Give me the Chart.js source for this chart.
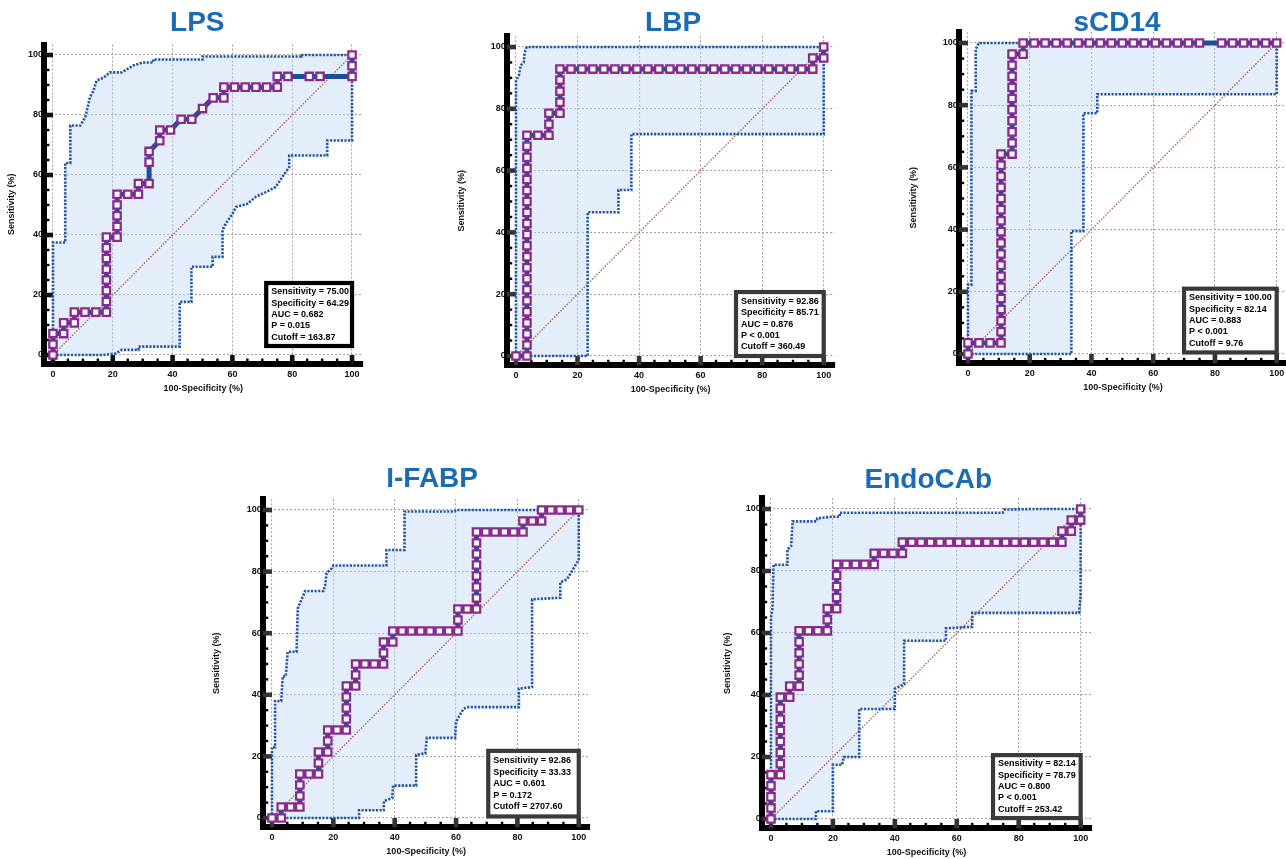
<!DOCTYPE html>
<html>
<head>
<meta charset="utf-8">
<title>ROC curves</title>
<script src="https://cdn.jsdelivr.net/npm/chart.js@4.4.1/dist/chart.umd.min.js"></script>
<style>
  html, body { margin: 0; padding: 0; background: #fff; overflow: hidden; }
  #wrap { position: relative; width: 1286px; height: 859px; overflow: hidden; }
  #wrap canvas { position: absolute; }
</style>
</head>
<body>
<div id="wrap"></div>
<script>
/* ================================================
   ROC curves (LPS / LBP / sCD14 / I-FABP / EndoCAb)
   ================================================ */

// ---- axis ticks ----
const TICK_VALUES = [0, 20, 40, 60, 80, 100];
const MINOR_STEP = 5;
const X_TITLE = '100-Specificity (%)';
const Y_TITLE = 'Sensitivity (%)';
const DIAGONAL = [[0, 0], [100, 100]];

// ---- LPS ----
const LPS_ROC = [[0,0],[0,3.57],[0,7.14],[3.57,7.14],[3.57,10.71],[7.14,10.71],[7.14,14.29],[10.71,14.29],[14.29,14.29],
  [17.86,14.29],[17.86,17.86],[17.86,21.43],[17.86,25],[17.86,28.57],[17.86,32.14],[17.86,35.71],[17.86,39.29],
  [21.43,39.29],[21.43,42.86],[21.43,46.43],[21.43,50],[21.43,53.57],[25,53.57],[28.57,53.57],[28.57,57.14],
  [32.14,57.14],[32.14,64.29],[32.14,67.86],[35.71,71.43],[35.71,75],[39.29,75],[42.86,78.57],[46.43,78.57],
  [50,82.14],[53.57,85.71],[57.14,85.71],[57.14,89.29],[60.71,89.29],[64.29,89.29],[67.86,89.29],[71.43,89.29],
  [75,89.29],[75,92.86],[78.57,92.86],[85.71,92.86],[89.29,92.86],[100,92.86],[100,96.43],[100,100]];
const LPS_UPPER = [[0,0],[0,37.5],[4.1,37.5],[4.1,64],[5.8,64],[5.8,76.5],[9.1,76.5],[10.8,79.3],[12.4,86],[13.5,88],
  [14.6,91.5],[17,92.5],[19,94.2],[23,94.2],[26.8,96.5],[30,97.5],[33.5,97.5],[33.5,98.5],[50,98.5],[50,99.5],
  [83,99.5],[83,100],[100,100]];
const LPS_LOWER = [[0,0],[17,0],[21,0.5],[23,1.7],[28.6,1.7],[28.6,2.8],[42.4,2.8],[42.4,17.7],[46.3,17.7],[46.3,29.4],
  [53.4,29.4],[53.4,32.7],[56.7,32.7],[56.7,41.6],[57.8,43.8],[60,47],[61.2,49.3],[65,50.4],[67.8,52.7],[71.2,54.3],
  [74.5,56],[76.7,59.3],[79,62.6],[79,66.5],[91.7,66.5],[91.7,71.5],[100,71.5],[100,100]];
const LPS_STATS = ['Sensitivity = 75.00', 'Specificity = 64.29', 'AUC = 0.682', 'P = 0.015', 'Cutoff = 163.87'];

// ---- LBP ----
const LBP_ROC = [[0,0],[3.57,0],[3.57,3.57],[3.57,7.14],[3.57,10.71],[3.57,14.29],[3.57,17.86],[3.57,21.43],[3.57,25],
  [3.57,28.57],[3.57,32.14],[3.57,35.71],[3.57,39.29],[3.57,42.86],[3.57,46.43],[3.57,50],[3.57,53.57],[3.57,57.14],
  [3.57,60.71],[3.57,64.29],[3.57,67.86],[3.57,71.43],[7.14,71.43],[10.71,71.43],[10.71,75],[10.71,78.57],
  [14.29,78.57],[14.29,82.14],[14.29,85.71],[14.29,89.29],[14.29,92.86],[17.86,92.86],[21.43,92.86],[25,92.86],
  [28.57,92.86],[32.14,92.86],[35.71,92.86],[39.29,92.86],[42.86,92.86],[46.43,92.86],[50,92.86],[53.57,92.86],
  [57.14,92.86],[60.71,92.86],[64.29,92.86],[67.86,92.86],[71.43,92.86],[75,92.86],[78.57,92.86],[82.14,92.86],
  [85.71,92.86],[89.29,92.86],[92.86,92.86],[96.43,92.86],[96.43,96.43],[100,96.43],[100,100]];
const LBP_UPPER = [[0,0],[0,89],[1,91],[1.5,94],[2.5,95],[2.8,98],[3.2,99.5],[3.6,100],[100,100]];
const LBP_LOWER = [[0,0],[23.3,0],[23.3,46.5],[33.3,46.5],[33.3,53.7],[37.5,53.7],[37.5,71.8],[100,71.8],[100,100]];
const LBP_STATS = ['Sensitivity = 92.86', 'Specificity = 85.71', 'AUC = 0.876', 'P < 0.001', 'Cutoff = 360.49'];

// ---- sCD14 ----
const SCD14_ROC = [[0,0],[0,3.57],[3.57,3.57],[7.14,3.57],[10.71,3.57],[10.71,7.14],[10.71,10.71],[10.71,14.29],
  [10.71,17.86],[10.71,21.43],[10.71,25],[10.71,28.57],[10.71,32.14],[10.71,35.71],[10.71,39.29],[10.71,42.86],
  [10.71,46.43],[10.71,50],[10.71,53.57],[10.71,57.14],[10.71,60.71],[10.71,64.29],[14.29,64.29],[14.29,67.86],
  [14.29,71.43],[14.29,75],[14.29,78.57],[14.29,82.14],[14.29,85.71],[14.29,89.29],[14.29,92.86],[14.29,96.43],
  [17.86,96.43],[17.86,100],[21.43,100],[25,100],[28.57,100],[32.14,100],[35.71,100],[39.29,100],[42.86,100],
  [46.43,100],[50,100],[53.57,100],[57.14,100],[60.71,100],[64.29,100],[67.86,100],[71.43,100],[75,100],
  [82.14,100],[85.71,100],[89.29,100],[92.86,100],[96.43,100],[100,100]];
const SCD14_UPPER = [[0,0],[0,22.3],[1.1,22.3],[1.1,84.6],[2.5,84.6],[2.5,98],[3,99],[3.5,100],[100,100]];
const SCD14_LOWER = [[0,0],[33.5,0],[33.5,39.5],[37.4,39.5],[37.4,77.4],[41.9,77.4],[41.9,83.5],[100,83.5],[100,100]];
const SCD14_STATS = ['Sensitivity = 100.00', 'Specificity = 82.14', 'AUC = 0.883', 'P < 0.001', 'Cutoff = 9.76'];

// ---- I-FABP ----
const IFABP_ROC = [[0,0],[3.03,0],[3.03,3.57],[6.06,3.57],[9.09,3.57],[9.09,7.14],[9.09,10.71],[9.09,14.29],
  [12.12,14.29],[15.15,14.29],[15.15,17.86],[15.15,21.43],[18.18,21.43],[18.18,25],[18.18,28.57],[21.21,28.57],
  [24.24,28.57],[24.24,32.14],[24.24,35.71],[24.24,39.29],[24.24,42.86],[27.27,42.86],[27.27,46.43],[27.27,50],
  [30.3,50],[33.33,50],[36.36,50],[36.36,53.57],[36.36,57.14],[39.39,57.14],[39.39,60.71],[42.42,60.71],
  [45.45,60.71],[48.48,60.71],[51.52,60.71],[54.55,60.71],[57.58,60.71],[60.61,60.71],[60.61,64.29],[60.61,67.86],
  [63.64,67.86],[66.67,67.86],[66.67,71.43],[66.67,75],[66.67,78.57],[66.67,82.14],[66.67,85.71],[66.67,89.29],
  [66.67,92.86],[69.7,92.86],[72.73,92.86],[75.76,92.86],[78.79,92.86],[81.82,92.86],[81.82,96.43],[84.85,96.43],
  [87.88,96.43],[87.88,100],[90.91,100],[93.94,100],[96.97,100],[100,100]];
const IFABP_UPPER = [[0,0],[0,23],[1,23],[1,38],[3,38],[3.5,46],[4.5,46],[5.1,54],[8,54],[8.4,68],[9.2,70],[10.3,72.5],
  [10.8,73.7],[16.8,73.7],[17.3,75.5],[17.8,79.5],[19.4,81],[20,82],[37.3,82],[37.3,87],[43.2,87],[43.2,99.5],
  [59.5,99.5],[60,100],[100,100]];
const IFABP_LOWER = [[0,0],[28.4,0],[28.4,2.5],[36.4,2.5],[36.5,5.5],[39.2,6.5],[39.5,10.5],[47,10.5],[47,20.5],[50,21],
  [50.5,26],[59.7,26],[60,31],[61,33],[62.5,35.5],[64,36],[80.5,36],[80.5,42],[84.8,42.5],[84.8,71],[94,71.5],
  [94,76.5],[96.2,77.5],[99.5,83],[100,84],[100,100]];
const IFABP_STATS = ['Sensitivity = 92.86', 'Specificity = 33.33', 'AUC = 0.601', 'P = 0.172', 'Cutoff = 2707.60'];

// ---- EndoCAb ----
const ENDOCAB_ROC = [[0,0],[0,3.57],[0,7.14],[0,10.71],[0,14.29],[3.03,14.29],[3.03,17.86],[3.03,21.43],[3.03,25],
  [3.03,28.57],[3.03,32.14],[3.03,35.71],[3.03,39.29],[6.06,39.29],[6.06,42.86],[9.09,42.86],[9.09,46.43],[9.09,50],
  [9.09,53.57],[9.09,57.14],[9.09,60.71],[12.12,60.71],[15.15,60.71],[18.18,60.71],[18.18,64.29],[18.18,67.86],
  [21.21,67.86],[21.21,71.43],[21.21,75],[21.21,78.57],[21.21,82.14],[24.24,82.14],[27.27,82.14],[30.3,82.14],
  [33.33,82.14],[33.33,85.71],[36.36,85.71],[39.39,85.71],[42.42,85.71],[42.42,89.29],[45.45,89.29],[48.48,89.29],
  [51.52,89.29],[54.55,89.29],[57.58,89.29],[60.61,89.29],[63.64,89.29],[66.67,89.29],[69.7,89.29],[72.73,89.29],
  [75.76,89.29],[78.79,89.29],[81.82,89.29],[84.85,89.29],[87.88,89.29],[90.91,89.29],[93.94,89.29],[93.94,92.86],
  [96.97,92.86],[96.97,96.43],[100,96.43],[100,100]];
const ENDOCAB_UPPER = [[0,0],[0,65],[0.5,68],[0.8,82],[5.3,82],[5.3,87],[6.5,88],[7,96],[14.7,96],[15,97],[19.5,97.5],
  [22.2,97.5],[22.2,98.8],[74.8,98.8],[75.3,99.8],[85,100],[100,100]];
const ENDOCAB_LOWER = [[0,0],[14.5,0],[14.5,2.5],[20,2.5],[20,17.5],[23,17.5],[23.5,20],[28.5,20],[28.5,35.5],[40,35.5],
  [40,42],[43,43.5],[43,57.5],[56.5,57.5],[56.5,61.5],[65,62],[65,66.5],[99.5,66.5],[100,72],[100,100]];
const ENDOCAB_STATS = ['Sensitivity = 82.14', 'Specificity = 78.79', 'AUC = 0.800', 'P < 0.001', 'Cutoff = 253.42'];

// ---- layout (page pixels of value 0 / 100 on each panel) ----
const AXIS_MIN = -3;
const AXIS_MAX = 103.5;
const X_SCALE_H = 30;

const PANELS = [
  { title: 'LPS', roc: LPS_ROC, upper: LPS_UPPER, lower: LPS_LOWER, stats: LPS_STATS,
    x0: 53, x100: 353, y100: 55, y0: 355, titleY: 23, titleDx: -6, yTitleGap: 32,
    box: [71.3, 3, 100, 24], boxColor: '#000000', tickColor: '#111111' },
  { title: 'LBP', roc: LBP_ROC, upper: LBP_UPPER, lower: LBP_LOWER, stats: LBP_STATS,
    x0: 516, x100: 825, y100: 47, y0: 356, titleY: 23, titleDx: 2.5, yTitleGap: 45,
    box: [71.5, 0, 100, 20.7], boxColor: '#3a3a3a', tickColor: '#333333' },
  { title: 'sCD14', roc: SCD14_ROC, upper: SCD14_UPPER, lower: SCD14_LOWER, stats: SCD14_STATS,
    x0: 968, x100: 1278, y100: 43, y0: 354, titleY: 23, titleDx: -6, yTitleGap: 45,
    box: [70, 0.5, 100, 21], boxColor: '#3a3a3a', tickColor: '#333333' },
  { title: 'I-FABP', roc: IFABP_ROC, upper: IFABP_UPPER, lower: IFABP_LOWER, stats: IFABP_STATS,
    x0: 272, x100: 580, y100: 510, y0: 818, titleY: 479, titleDx: 6, yTitleGap: 46,
    box: [70.5, 0.5, 100, 21.8], boxColor: '#3a3a3a', tickColor: '#333333' },
  { title: 'EndoCAb', roc: ENDOCAB_ROC, upper: ENDOCAB_UPPER, lower: ENDOCAB_LOWER, stats: ENDOCAB_STATS,
    x0: 771, x100: 1082, y100: 509, y0: 819, titleY: 480, titleDx: 1.7, yTitleGap: 34,
    box: [71.7, 0.3, 100, 20.6], boxColor: '#3a3a3a', tickColor: '#333333' }
];

const COLORS = {
  title: '#1B6CB3',
  roc: '#1C4F95',
  marker: '#8A2C8E',
  ci: '#2257A5',
  band: 'rgba(191, 215, 242, 0.42)',
  diag: '#B5705B',
  grid: '#a5a5a5',
  text: '#111111'
};

Chart.defaults.font.family = "'Liberation Sans', Arial, sans-serif";
Chart.defaults.color = COLORS.text;

function toPoints(pairs) {
  return pairs.map(([x, y]) => ({ x, y }));
}

/** 主刻度粗短棒 + 次刻度小點 */
const axisMarks = {
  id: 'axisMarks',
  beforeDatasetsDraw(chart, args, opts) {
    const { ctx, chartArea: a, scales: { x, y } } = chart;
    const zx = x.getPixelForValue(0);
    const zy = y.getPixelForValue(0);
    ctx.save();
    for (let v = 0; v <= 100; v += MINOR_STEP) {
      const px = x.getPixelForValue(v);
      const py = y.getPixelForValue(v);
      if (TICK_VALUES.includes(v)) {
        ctx.fillStyle = opts.color;
        ctx.fillRect(a.left, py - 2.3, zx - a.left, 4.6);
        ctx.fillRect(px - 2.3, zy, 4.6, a.bottom - zy);
      } else {
        ctx.fillStyle = '#000';
        ctx.fillRect(a.left + 2, py - 1.2, 3.5, 2.4);
        ctx.fillRect(px - 1.2, a.bottom - 5.5, 2.4, 3.5);
      }
    }
    ctx.restore();
  }
};

/** 右下角統計框 */
const statsBox = {
  id: 'statsBox',
  afterDraw(chart, args, opts) {
    const { ctx, scales: { x, y } } = chart;
    const [bx0, by0, bx1, by1] = opts.box;
    const l = x.getPixelForValue(bx0);
    const r = x.getPixelForValue(bx1);
    const t = y.getPixelForValue(by1);
    const b = y.getPixelForValue(by0);
    ctx.save();
    ctx.fillStyle = '#fff';
    ctx.fillRect(l, t, r - l, b - t);
    ctx.lineWidth = 4.2;
    ctx.strokeStyle = opts.color;
    ctx.strokeRect(l, t, r - l, b - t);
    ctx.fillStyle = '#000';
    ctx.font = "bold 9px 'Liberation Sans', Arial, sans-serif";
    ctx.textBaseline = 'middle';
    ctx.textAlign = 'left';
    const step = 11.4;
    const mid = (t + b) / 2;
    const n = opts.lines.length;
    opts.lines.forEach((s, k) => {
      ctx.fillText(s, l + 5, mid + (k - (n - 1) / 2) * step);
    });
    ctx.restore();
  }
};

/** 標題水平微調 */
const titleShift = {
  id: 'titleShift',
  afterLayout(chart, args, opts) {
    const tb = chart.titleBlock;
    if (tb && opts.dx) {
      tb.left += opts.dx;
      tb.right += opts.dx;
    }
  }
};

const wrap = document.getElementById('wrap');

PANELS.forEach(p => {
  const pxX = (p.x100 - p.x0) / 100;
  const pxY = (p.y0 - p.y100) / 100;
  const areaL = p.x0 + AXIS_MIN * pxX;
  const areaR = p.x0 + AXIS_MAX * pxX;
  const areaT = p.y100 - (AXIS_MAX - 100) * pxY;
  const areaB = p.y0 - AXIS_MIN * pxY;
  const yScaleW = p.yTitleGap + 5.4;

  const leftEdge = areaL - yScaleW;
  const topEdge = p.titleY - 18;
  const cl = Math.floor(leftEdge);
  const ct = Math.floor(topEdge);
  const cw = Math.ceil(areaR + 6 - cl);
  const ch = Math.ceil(areaB + X_SCALE_H + 2 - ct);

  const canvas = document.createElement('canvas');
  canvas.width = cw;
  canvas.height = ch;
  canvas.style.left = cl + 'px';
  canvas.style.top = ct + 'px';
  canvas.style.width = cw + 'px';
  canvas.style.height = ch + 'px';
  wrap.appendChild(canvas);

  const band = p.upper.concat(p.lower.slice().reverse());

  new Chart(canvas, {
    type: 'line',
    data: {
      datasets: [
        {
          label: 'ROC',
          data: toPoints(p.roc),
          borderColor: COLORS.roc,
          borderWidth: 5,
          pointStyle: 'rect',
          pointRadius: 5.2,
          pointBorderWidth: 2.3,
          pointBorderColor: COLORS.marker,
          pointBackgroundColor: '#ffffff',
          order: 1
        },
        {
          label: 'Upper 95% CI',
          data: toPoints(p.upper),
          borderColor: COLORS.ci,
          borderWidth: 2.6,
          borderDash: [2.2, 1.4],
          pointRadius: 0,
          order: 2
        },
        {
          label: 'Lower 95% CI',
          data: toPoints(p.lower),
          borderColor: COLORS.ci,
          borderWidth: 2.6,
          borderDash: [2.2, 1.4],
          pointRadius: 0,
          order: 2
        },
        {
          label: 'Reference',
          data: toPoints(DIAGONAL),
          borderColor: COLORS.diag,
          borderWidth: 1.4,
          borderDash: [1.6, 1.4],
          pointRadius: 0,
          order: 3
        },
        {
          label: '95% CI band',
          data: toPoints(band),
          borderWidth: 0,
          borderColor: 'rgba(0,0,0,0)',
          backgroundColor: COLORS.band,
          fill: 'shape',
          pointRadius: 0,
          order: 4
        }
      ]
    },
    options: {
      responsive: false,
      animation: false,
      events: [],
      layout: {
        padding: {
          left: leftEdge - cl,
          top: topEdge - ct,
          right: cl + cw - areaR,
          bottom: ct + ch - (areaB + X_SCALE_H)
        }
      },
      scales: {
        x: {
          type: 'linear',
          min: AXIS_MIN,
          max: AXIS_MAX,
          afterBuildTicks: s => { s.ticks = TICK_VALUES.map(v => ({ value: v })); },
          afterFit: s => { s.height = X_SCALE_H; },
          grid: { color: COLORS.grid, lineWidth: 1.1, drawTicks: false },
          border: { display: true, color: '#000', width: 6, dash: [2, 2] },
          ticks: { padding: 5, font: { size: 9, weight: 'bold' }, color: COLORS.text, maxRotation: 0 },
          title: { display: true, text: X_TITLE, padding: 0, font: { size: 9, weight: 'bold' }, color: COLORS.text }
        },
        y: {
          type: 'linear',
          min: AXIS_MIN,
          max: AXIS_MAX,
          afterBuildTicks: s => { s.ticks = TICK_VALUES.map(v => ({ value: v })); },
          afterFit: s => { s.width = yScaleW; },
          grid: { color: COLORS.grid, lineWidth: 1.1, drawTicks: false },
          border: { display: true, color: '#000', width: 6, dash: [2, 2] },
          ticks: { padding: 1, font: { size: 9, weight: 'bold' }, color: COLORS.text },
          title: { display: true, text: Y_TITLE, padding: 0, font: { size: 9, weight: 'bold' }, color: COLORS.text }
        }
      },
      plugins: {
        legend: { display: false },
        tooltip: { enabled: false },
        title: {
          display: true,
          text: p.title,
          color: COLORS.title,
          fullSize: false,
          font: { size: 28, weight: 'bold', lineHeight: 1 },
          padding: { top: 4, bottom: areaT - p.titleY - 14 }
        },
        titleShift: { dx: p.titleDx },
        axisMarks: { color: p.tickColor },
        statsBox: { box: p.box, color: p.boxColor, lines: p.stats }
      }
    },
    plugins: [axisMarks, statsBox, titleShift]
  });
});
</script>
</body>
</html>
